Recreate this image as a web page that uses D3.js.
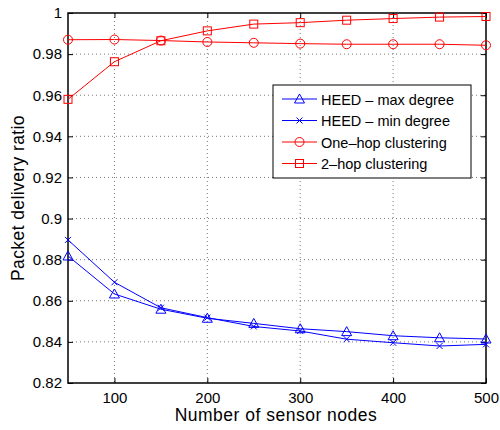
<!DOCTYPE html>
<html>
<head>
<meta charset="utf-8">
<script src="https://cdn.jsdelivr.net/npm/d3@7"></script>
<style>
  body { margin: 0; background: #fff; }
  text { font-family: "Liberation Sans", Arial, sans-serif; }
</style>
</head>
<body>
<div id="chart"></div>
<script>
// data
var nodes = [50, 100, 150, 200, 250, 300, 350, 400, 450, 500];
var heedMax = [0.8818, 0.8633, 0.8559, 0.8515, 0.849, 0.8464, 0.845, 0.843, 0.842, 0.8414];
var heedMin = [0.8896, 0.869, 0.8566, 0.8518, 0.8475, 0.8453, 0.8413, 0.8396, 0.838, 0.8388];
var oneHop = [0.987, 0.9871, 0.9866, 0.9859, 0.9855, 0.9851, 0.9848, 0.9848, 0.9848, 0.9843];
var twoHop = [0.958, 0.9763, 0.9865, 0.9913, 0.9946, 0.9953, 0.9965, 0.9973, 0.998, 0.9983];
var xTicks = [100, 200, 300, 400, 500];
var yTicks = [0.82, 0.84, 0.86, 0.88, 0.9, 0.92, 0.94, 0.96, 0.98, 1];

var series = [
  {name: "HEED \u2013 max degree", values: heedMax, color: "#0000ff", marker: "triangle"},
  {name: "HEED \u2013 min degree", values: heedMin, color: "#0000ff", marker: "cross"},
  {name: "One\u2013hop clustering", values: oneHop, color: "#ff0000", marker: "circle"},
  {name: "2\u2013hop clustering", values: twoHop, color: "#ff0000", marker: "square"}
];

var margin = {top: 13, right: 14, bottom: 47, left: 68},
    width = 500 - margin.left - margin.right,
    height = 430 - margin.top - margin.bottom;

var x = d3.scaleLinear().domain([50, 500]).range([0, width]);
var y = d3.scaleLinear().domain([0.82, 1]).range([height, 0]);

var svg = d3.select("#chart")
  .append("svg")
    .attr("width", 500)
    .attr("height", 430)
  .append("g")
    .attr("transform", "translate(" + margin.left + "," + margin.top + ")");

// grid
svg.append("g").selectAll("line").data(xTicks.filter(function(d) { return d < 500; }))
  .enter().append("line")
    .attr("x1", function(d) { return x(d); }).attr("x2", function(d) { return x(d); })
    .attr("y1", 0).attr("y2", height)
    .attr("stroke", "#555").attr("stroke-width", 0.8).attr("stroke-dasharray", "1,3");
svg.append("g").selectAll("line").data(yTicks.filter(function(d) { return d > 0.82 && d < 1; }))
  .enter().append("line")
    .attr("y1", function(d) { return y(d); }).attr("y2", function(d) { return y(d); })
    .attr("x1", 0).attr("x2", width)
    .attr("stroke", "#555").attr("stroke-width", 0.8).attr("stroke-dasharray", "1,3");

// axes, ticks inside like matlab
var xAxis = d3.axisBottom(x).tickValues(xTicks).tickSizeInner(-5).tickSizeOuter(0).tickPadding(9);
var yAxis = d3.axisLeft(y).tickValues(yTicks).tickSizeInner(-5).tickSizeOuter(0).tickPadding(6)
  .tickFormat(function(d) { return d === 1 ? "1" : d3.format(".2~f")(d); });

var gx = svg.append("g").attr("transform", "translate(0," + height + ")").call(xAxis);
var gy = svg.append("g").call(yAxis);
svg.append("g").call(d3.axisTop(x).tickValues(xTicks).tickSizeInner(-5).tickSizeOuter(0).tickFormat(""));
svg.append("g").attr("transform", "translate(" + width + ",0)")
  .call(d3.axisRight(y).tickValues(yTicks).tickSizeInner(-5).tickSizeOuter(0).tickFormat(""));
svg.selectAll(".domain").remove();
svg.selectAll(".tick line").attr("stroke", "#000");
[gx, gy].forEach(function(g) {
  g.selectAll("text").attr("font-size", 15).attr("fill", "#000")
    .style("font-family", "'Liberation Sans', Arial, sans-serif");
});

svg.append("rect")
  .attr("width", width).attr("height", height)
  .attr("fill", "none").attr("stroke", "#000").attr("stroke-width", 1.5);

// markers
function drawMarker(g, type, cx, cy, color) {
  if (type === "triangle") {
    g.append("path").attr("d", "M" + cx + "," + (cy - 5) + "L" + (cx + 5) + "," + (cy + 4) + "L" + (cx - 5) + "," + (cy + 4) + "Z")
      .attr("fill", "none").attr("stroke", color);
  } else if (type === "cross") {
    g.append("path").attr("d", "M" + (cx - 3) + "," + (cy - 3) + "L" + (cx + 3) + "," + (cy + 3) + "M" + (cx - 3) + "," + (cy + 3) + "L" + (cx + 3) + "," + (cy - 3))
      .attr("fill", "none").attr("stroke", color);
  } else if (type === "circle") {
    g.append("circle").attr("cx", cx).attr("cy", cy).attr("r", 4.5)
      .attr("fill", "none").attr("stroke", color);
  } else {
    g.append("rect").attr("x", cx - 4).attr("y", cy - 4).attr("width", 8).attr("height", 8)
      .attr("fill", "none").attr("stroke", color);
  }
}

var line = d3.line()
  .x(function(d) { return x(d[0]); })
  .y(function(d) { return y(d[1]); });

series.forEach(function(s) {
  var pts = nodes.map(function(n, i) { return [n, s.values[i]]; });
  var g = svg.append("g");
  g.append("path").datum(pts).attr("d", line)
    .attr("fill", "none").attr("stroke", s.color).attr("stroke-width", 1);
  pts.forEach(function(p) { drawMarker(g, s.marker, x(p[0]), y(p[1]), s.color); });
});

// legend
var legend = svg.append("g").attr("transform", "translate(" + (273 - margin.left) + "," + (85 - margin.top) + ")");
legend.append("rect").attr("width", 198).attr("height", 93)
  .attr("fill", "#fff").attr("stroke", "#000").attr("stroke-width", 1);
series.forEach(function(s, i) {
  var yy = 14 + i * 21.5;
  legend.append("line").attr("x1", 9).attr("x2", 44).attr("y1", yy).attr("y2", yy)
    .attr("stroke", s.color);
  drawMarker(legend, s.marker, 26.5, yy, s.color);
  legend.append("text").attr("x", 48).attr("y", yy + 5.5)
    .attr("font-size", 14.5).text(s.name);
});

// axis labels
svg.append("text")
  .attr("x", width / 2 - 1).attr("y", height + 38)
  .attr("text-anchor", "middle").attr("font-size", 17.5)
  .attr("letter-spacing", 0.5)
  .text("Number of sensor nodes");
svg.append("text")
  .attr("transform", "rotate(-90)")
  .attr("x", -height / 2).attr("y", -44)
  .attr("text-anchor", "middle").attr("font-size", 17.5)
  .attr("letter-spacing", 0.4)
  .text("Packet delivery ratio");
</script>
</body>
</html>
